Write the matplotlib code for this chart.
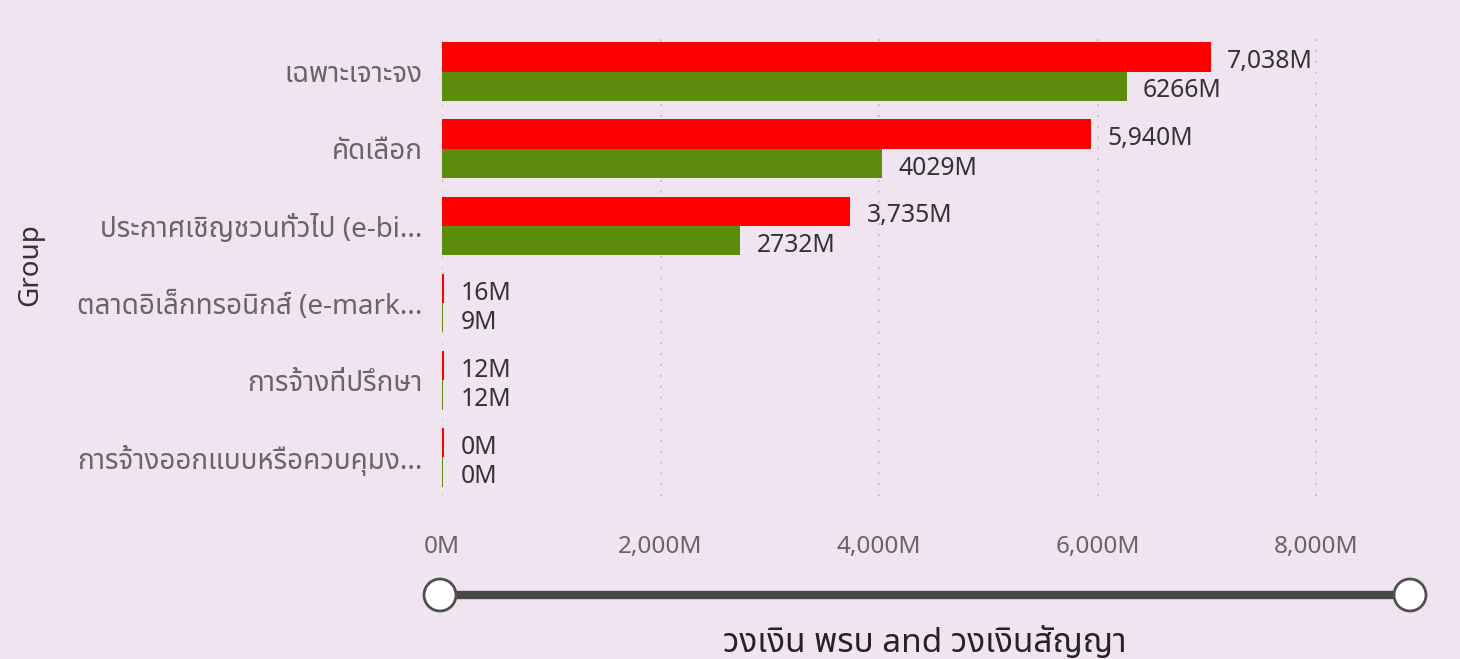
import numpy as np
import matplotlib
matplotlib.use('Agg')
import matplotlib.pyplot as plt
from matplotlib import font_manager
from matplotlib.patches import Circle

# data
groups = ['เฉพาะเจาะจง', 'คัดเลือก', 'ประกาศเชิญชวนทั่วไป (e-bi...',
          'ตลาดอิเล็กทรอนิกส์ (e-mark...', 'การจ้างที่ปรึกษา',
          'การจ้างออกแบบหรือควบคุมง...']
budget = [7038, 5940, 3735, 16, 12, 0]      # วงเงิน พรบ (M)
contract = [6266, 4029, 2732, 9, 12, 0]     # วงเงินสัญญา (M)
xticks = [0, 2000, 4000, 6000, 8000]

# fonts: Latin first, Thai fallback
names = set(f.name for f in font_manager.fontManager.ttflist)
fonts = [n for n in ['Noto Sans', 'Noto Sans Thai', 'IBM Plex Sans Thai', 'DejaVu Sans'] if n in names]
plt.rcParams['font.family'] = fonts

bg = '#f0e4f1'
red = '#ff0000'
green = '#5b8c0c'

fig = plt.figure(figsize=(14.6, 6.59), dpi=100, facecolor=bg)
ax = fig.add_axes([442 / 1460, 1 - 496 / 659, (1410 - 442) / 1460, (496 - 33) / 659])
ax.set_facecolor(bg)

y = np.arange(len(groups))
h = 0.38
ax.barh(y - 0.19, budget, height=h, color=red)
ax.barh(y + 0.19, contract, height=h, color=green)

# little stub so tiny bars still show
for i in range(len(groups)):
    if budget[i] < 60:
        ax.barh(y[i] - 0.19, 18, height=h, color=red)
    if contract[i] < 60:
        ax.barh(y[i] + 0.19, 12, height=h, color=green)

for i in range(len(groups)):
    ax.text(max(budget[i], 20) + 150, y[i] - 0.13, f'{budget[i]:,}M', va='center', ha='left',
            fontsize=17.8, color='#333333')
    ax.text(max(contract[i], 20) + 150, y[i] + 0.25, f'{contract[i]}M', va='center', ha='left',
            fontsize=17.8, color='#333333')

ax.set_xlim(0, 8860)
ax.set_ylim(len(groups) - 0.5, -0.5)
ax.set_xticks(xticks)
ax.set_xticklabels([f'{v:,}M' for v in xticks], fontsize=17.5, color='#666666')
ax.set_yticks(y)
ax.set_yticklabels(groups, fontsize=20, color='#666666')
ax.tick_params(axis='x', length=0, pad=28)
ax.tick_params(axis='y', length=0, pad=14)
ax.grid(axis='x', color='#c4bcc6', linestyle=(0, (1, 5)), linewidth=1.3)
ax.set_axisbelow(True)
for s in ax.spines.values():
    s.set_visible(False)

fig.text(30 / 1460, 1 - 265 / 659, 'Group', rotation=90, fontsize=20, color='#333333',
         ha='center', va='center')

# range slider under the axis
sl = fig.add_axes([0, 0, 1, 1], facecolor='none')
sl.set_xlim(0, 1460)
sl.set_ylim(659, 0)
sl.axis('off')
sl.plot([440, 1410], [595, 595], color='#484848', linewidth=6, solid_capstyle='butt')
for cx in [440, 1410]:
    sl.add_patch(Circle((cx, 595), 16, facecolor='white', edgecolor='#505050', linewidth=2, zorder=3))

fig.text(925 / 1460, 1 - 643 / 659, 'วงเงิน พรบ and วงเงินสัญญา', fontsize=24, color='#252423',
         ha='center', va='center')

fig.savefig('out.png', facecolor=bg)
